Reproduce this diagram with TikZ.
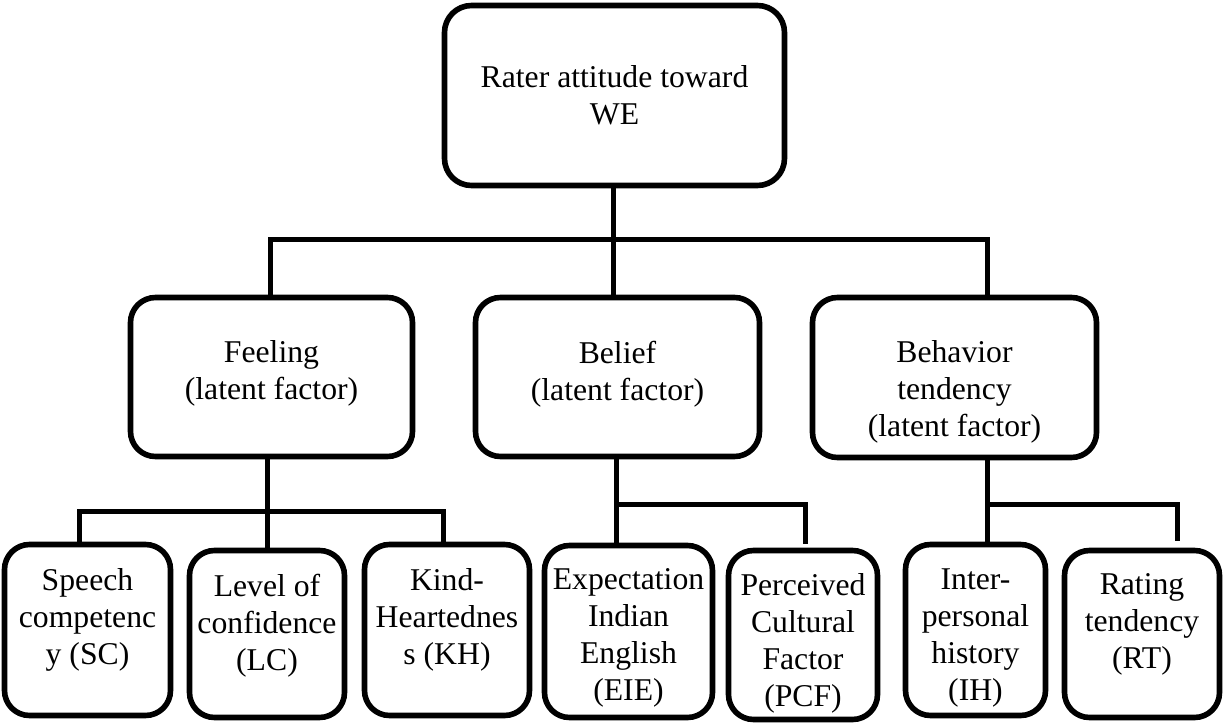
\documentclass[tikz,border=0pt]{standalone}
\usepackage{fontspec}
\setmainfont{Liberation Serif}
\begin{document}
\begin{tikzpicture}[x=1pt,y=-1pt,
  box/.style={draw, line width=5.6pt, rounded corners=25pt, outer sep=0pt, inner sep=0pt},
  txt/.style={align=center, inner sep=0pt, anchor=north,
    font=\fontsize{31.7}{37}\selectfont, execute at begin node=\strut},
  link/.style={line width=5pt}]
\useasboundingbox (0,0) rectangle (1223,723);

% boxes
\node[box, rounded corners=27pt, minimum width=340, minimum height=180] (root) at (614.5,95.5) {};
\node[box, minimum width=282, minimum height=159] (feel) at (271.5,377) {};
\node[box, minimum width=284, minimum height=159] (bel) at (617.5,377) {};
\node[box, minimum width=284, minimum height=160] (beh) at (954.5,377.5) {};
\node[box, minimum width=166, minimum height=171] (sc) at (87.5,630) {};
\node[box, minimum width=155, minimum height=167] (lc) at (267,634) {};
\node[box, minimum width=165, minimum height=171] (kh) at (447,630) {};
\node[box, minimum width=168, minimum height=172] (eie) at (628.5,631.5) {};
\node[box, minimum width=149, minimum height=169] (pcf) at (803,635) {};
\node[box, minimum width=140, minimum height=171] (ih) at (975.5,630) {};
\node[box, minimum width=155, minimum height=167] (rt) at (1142,634) {};

% labels
\node[txt] (rootT) at ([yshift=-60pt]root.north) {Rater attitude toward\\WE};
\node[txt] (feelT) at ([yshift=-43pt]feel.north) {Feeling\\(latent factor)};
\node[txt] (belT) at ([yshift=-43pt]bel.north) {Belief\\(latent factor)};
\node[txt] (behT) at ([yshift=-43pt]beh.north) {Behavior\\tendency\\(latent factor)};
\node[txt] (scT) at ([yshift=-24pt]sc.north) {Speech\\competenc\\y (SC)};
\node[txt] (lcT) at ([yshift=-23pt]lc.north) {Level of\\confidence\\(LC)};
\node[txt] (khT) at ([yshift=-24pt]kh.north) {Kind-\\Heartednes\\s (KH)};
\node[txt] (eieT) at ([yshift=-23pt]eie.north) {Expectation\\Indian\\English\\(EIE)};
\node[txt] (pcfT) at ([yshift=-23pt]pcf.north) {Perceived\\Cultural\\Factor\\(PCF)};
\node[txt] (ihT) at ([yshift=-24pt]ih.north) {Inter-\\personal\\history\\(IH)};
\node[txt] (rtT) at ([yshift=-23pt]rt.north) {Rating\\tendency\\(RT)};

% junction points
\coordinate (jr) at (613,239);
\coordinate (b1) at (270,239);
\coordinate (b2) at (987,239);
\coordinate (f1) at (79,511);
\coordinate (f2) at (443,511);
\coordinate (e1) at (616,504);
\coordinate (e2) at (805,504);
\coordinate (h1) at (987,504);
\coordinate (h2) at (1177,504);

% top level connectors
\draw[link] (root.south -| jr) -- (bel.north -| jr);
\draw[link] (feel.north -| b1) -- (b1) -- (b2) -- (beh.north -| b2);

% feeling branch
\draw[link] (feel.south -| lc) -- (lc.north);
\draw[link] (sc.north -| f1) -- (f1) -- (f2) -- (kh.north -| f2);

% belief branch
\draw[link] (bel.south -| e1) -- (eie.north -| e1);
\draw[link, shorten >=7pt] (e1) -- (e2) -- (pcf.north -| e2);

% behavior branch
\draw[link] (beh.south -| h1) -- (ih.north -| h1);
\draw[link, shorten >=10pt] (h1) -- (h2) -- (rt.north -| h2);
\end{tikzpicture}
\end{document}
